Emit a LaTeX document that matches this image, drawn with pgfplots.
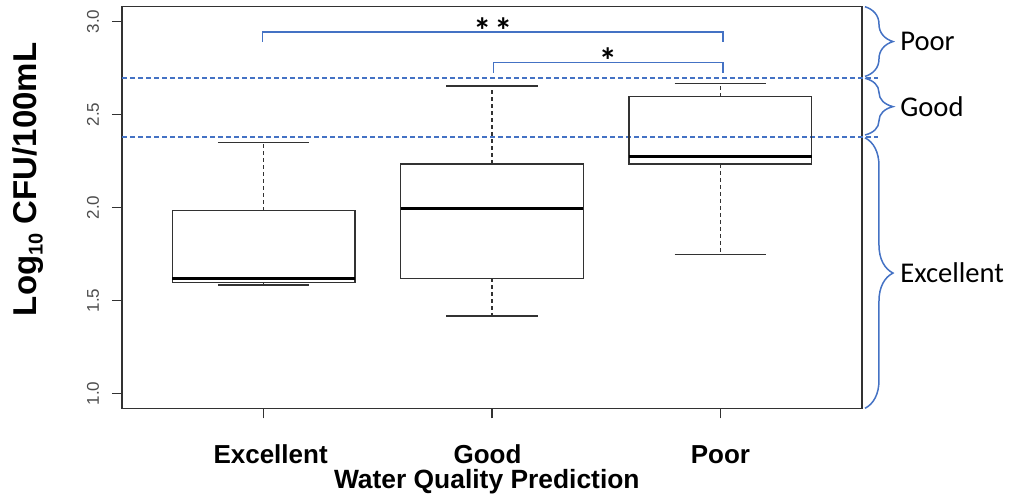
\documentclass[border=0pt]{standalone}
\usepackage{pgfplots}
\pgfplotsset{compat=1.18}
\usepgfplotslibrary{statistics}
\usetikzlibrary{decorations.pathreplacing}
\usepackage{fontspec}
\setmainfont{Liberation Sans}
\newfontfamily\calfont{Carlito}
\definecolor{rblue}{RGB}{68,114,196}
\definecolor{axgray}{RGB}{50,50,50}
\pgfplotsset{
  boxplot/draw/lower whisker/.code={%
    \draw[/pgfplots/boxplot/every whisker/.try, dash pattern=on 2pt off 1.5pt]
      (boxplot cs:\pgfplotsboxplotvalue{lower quartile}) --
      (boxplot cs:\pgfplotsboxplotvalue{lower whisker});
    \draw[/pgfplots/boxplot/every whisker/.try, solid]
      (boxplot whisker cs:\pgfplotsboxplotvalue{lower whisker},0) --
      (boxplot whisker cs:\pgfplotsboxplotvalue{lower whisker},1);
  },
  boxplot/draw/upper whisker/.code={%
    \draw[/pgfplots/boxplot/every whisker/.try, dash pattern=on 2pt off 1.5pt]
      (boxplot cs:\pgfplotsboxplotvalue{upper quartile}) --
      (boxplot cs:\pgfplotsboxplotvalue{upper whisker});
    \draw[/pgfplots/boxplot/every whisker/.try, solid]
      (boxplot whisker cs:\pgfplotsboxplotvalue{upper whisker},0) --
      (boxplot whisker cs:\pgfplotsboxplotvalue{upper whisker},1);
  },
}
\begin{document}
\begin{tikzpicture}
\begin{axis}[
  name=ax,
  scale only axis,
  width=370pt, height=200.8pt,
  xmin=0.38, xmax=3.62, ymin=0.92, ymax=3.08,
  clip=false,
  axis line style={axgray, line width=0.6pt},
  xtick={1,2,3},
  xticklabels={\hspace{7pt}Excellent,\hspace{-4.5pt}Good,Poor},
  ytick={1,1.5,2,2.5,3},
  yticklabels={1.0,1.5,2.0,2.5,3.0},
  tick align=outside,
  major tick length=5pt,
  tick style={axgray, line width=0.6pt},
  xtick pos=left, ytick pos=left,
  xticklabel style={font=\bfseries\fontsize{13}{13}\selectfont, anchor=base, yshift=-22.5pt},
  yticklabel style={font=\fontsize{8.5}{8.5}\selectfont, text=black!70, xshift=-3pt, rotate=90, anchor=south},
  boxplot/draw direction=y,
  boxplot/box extend=0.8,
  boxplot/whisker extend=0.4,
  boxplot/every median/.style={line width=1.5pt, black},
]
% threshold lines
\addplot[rblue, line width=0.8pt, dash pattern=on 2.5pt off 1.5pt] coordinates {(0.38,2.697) (3.69,2.697)};
\addplot[rblue, line width=0.8pt, dash pattern=on 2.5pt off 1.5pt] coordinates {(0.38,2.38) (3.69,2.38)};
% significance brackets
\addplot[rblue, line width=0.75pt] coordinates {(0.996,2.892) (0.996,2.943) (3.012,2.943) (3.012,2.892)};
\addplot[rblue, line width=0.75pt] coordinates {(2.007,2.725) (2.007,2.779) (3.012,2.779) (3.012,2.725)};
% box plots
\addplot[boxplot prepared={median=1.617, upper quartile=1.983, lower quartile=1.597,
  upper whisker=2.349, lower whisker=1.583, draw position=1},
  draw=axgray, line width=0.6pt, mark=none] coordinates {};
\addplot[boxplot prepared={median=1.997, upper quartile=2.234, lower quartile=1.620,
  upper whisker=2.654, lower whisker=1.416, draw position=2},
  draw=axgray, line width=0.6pt, mark=none] coordinates {};
\addplot[boxplot prepared={median=2.273, upper quartile=2.596, lower quartile=2.234,
  upper whisker=2.665, lower whisker=1.748, draw position=3},
  draw=axgray, line width=0.6pt, mark=none] coordinates {};
\node[anchor=base, inner sep=0, font=\calfont\bfseries\fontsize{18}{18}\selectfont] at (axis cs:2.004,2.883) {*\hspace{1.5pt}*};
\node[anchor=base, inner sep=0, font=\calfont\bfseries\fontsize{18}{18}\selectfont] at (axis cs:2.507,2.721) {*};
% right braces
\draw[rblue, line width=0.75pt, decorate, decoration={brace, amplitude=14pt}] (axis cs:3.633,3.08) -- (axis cs:3.633,2.705);
\draw[rblue, line width=0.75pt, decorate, decoration={brace, amplitude=14pt}] (axis cs:3.633,2.695) -- (axis cs:3.633,2.39);
\draw[rblue, line width=0.75pt, decorate, decoration={brace, amplitude=14pt}] (axis cs:3.633,2.375) -- (axis cs:3.633,0.92);
\node[anchor=west, inner sep=0, font=\calfont\fontsize{14.3}{14.3}\selectfont] at (axis cs:3.786,2.8925) {Poor};
\node[anchor=west, inner sep=0, font=\calfont\fontsize{14.3}{14.3}\selectfont] at (axis cs:3.786,2.5425) {Good};
\node[anchor=west, inner sep=0, font=\calfont\fontsize{14.3}{14.3}\selectfont] at (axis cs:3.786,1.6475) {Excellent};
% axis labels
\node[rotate=90, anchor=center, inner sep=0, font=\bfseries\fontsize{16.5}{16.5}\selectfont] at (axis description cs:-0.127,0.57) {Log\raisebox{-0.35ex}{\fontsize{10}{10}\selectfont 10} CFU/100mL};
\node[anchor=base, inner sep=0, font=\bfseries\fontsize{13.2}{13.2}\selectfont] at (axis description cs:0.493,-0.199) {Water Quality Prediction};
\end{axis}
\pgfresetboundingbox
\path (ax.south west) ++(-61pt,-45.35pt) rectangle ++(505.5pt,249.5pt);
\end{tikzpicture}
\end{document}
